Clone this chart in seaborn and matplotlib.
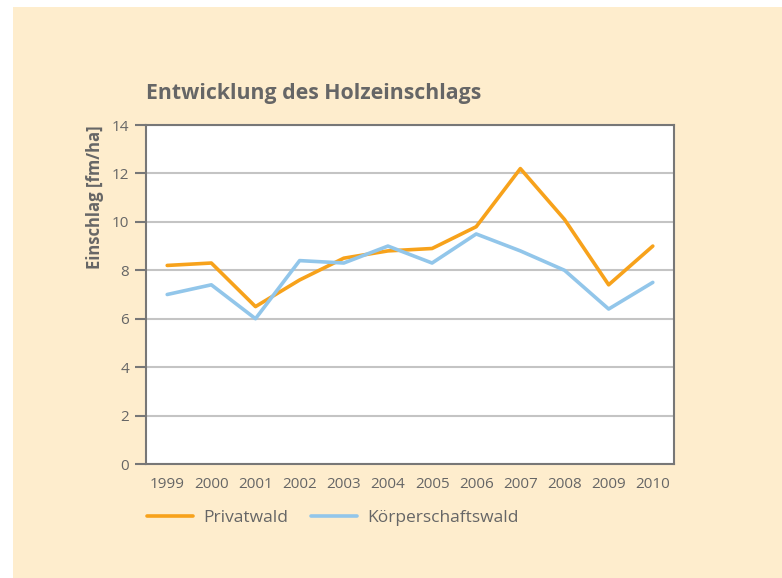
import matplotlib
matplotlib.use("Agg")
import matplotlib.pyplot as plt
import seaborn as sns
import pandas as pd
from matplotlib.lines import Line2D

years = ["1999", "2000", "2001", "2002", "2003", "2004", "2005", "2006", "2007", "2008", "2009", "2010"]
privatwald = [8.2, 8.3, 6.5, 7.6, 8.5, 8.8, 8.9, 9.8, 12.2, 10.1, 7.4, 9.0]
koerperschaftswald = [7.0, 7.4, 6.0, 8.4, 8.3, 9.0, 8.3, 9.5, 8.8, 8.0, 6.4, 7.5]
series_names = ["Privatwald", "Körperschaftswald"]
y_ticks = [0, 2, 4, 6, 8, 10, 12, 14]

sns.set_theme(style="white")
plt.rcParams["font.family"] = ["Open Sans", "DejaVu Sans"]

TEXT = "#666666"
CREAM = "#FEEDCD"
ORANGE = "#F7A21B"
BLUE = "#92C6EA"

df = pd.DataFrame({
    "idx": list(range(len(years))) * 2,
    "value": privatwald + koerperschaftswald,
    "series": [series_names[0]] * len(years) + [series_names[1]] * len(years),
})

fig = plt.figure(figsize=(7.82, 5.78), dpi=100)
fig.patch.set_facecolor("white")
bg = plt.Rectangle((13 / 782, 0), 1 - 13 / 782, 1 - 7 / 578, transform=fig.transFigure,
                   facecolor=CREAM, edgecolor="none", zorder=-10)
fig.patches.append(bg)

ax = fig.add_axes([146 / 782, 1 - 464 / 578, (674 - 146) / 782, (464 - 125) / 578])
ax.set_facecolor("white")

sns.lineplot(data=df, x="idx", y="value", hue="series", ax=ax,
             palette={series_names[0]: ORANGE, series_names[1]: BLUE},
             linewidth=2.6, legend=False, zorder=3)

ax.set_xlim(-0.48, len(years) - 0.52)
ax.set_ylim(0, 14)
ax.set_yticks(y_ticks)
ax.set_yticklabels([str(t) for t in y_ticks])
ax.set_xticks(range(len(years)))
ax.set_xticklabels(years)
ax.yaxis.grid(True, color="#C4C4C4", linewidth=1.5, zorder=1)
ax.xaxis.grid(False)
ax.set_axisbelow(True)
for s in ax.spines.values():
    s.set_visible(True)
    s.set_color("#777777")
    s.set_linewidth(1.5)
ax.tick_params(axis="y", which="both", left=True, length=8, width=1.5, color="#777777",
               labelsize=11, labelcolor=TEXT, pad=4)
ax.tick_params(axis="x", bottom=False, labelsize=11, labelcolor=TEXT, pad=3)
ax.set_xlabel("")
ax.set_ylabel("")

fig.text(146 / 782, 1 - 94 / 578, "Entwicklung des Holzeinschlags", fontsize=15.3,
         fontweight="bold", color=TEXT, ha="left", va="center")
fig.text(95 / 782, 1 - 125 / 578, "Einschlag [fm/ha]", fontsize=12, fontweight="bold",
         color=TEXT, rotation=90, ha="center", va="top")

handles = [Line2D([0], [0], color=ORANGE, lw=2.6), Line2D([0], [0], color=BLUE, lw=2.6)]
leg = fig.legend(handles, series_names, loc="center left",
                 bbox_to_anchor=(131 / 782, 1 - 518 / 578), ncol=2, frameon=False,
                 fontsize=12.5, handlelength=2.65, handletextpad=0.6, columnspacing=1.3)
for t in leg.get_texts():
    t.set_color(TEXT)

fig.savefig("out.png", dpi=100, facecolor=fig.get_facecolor())
